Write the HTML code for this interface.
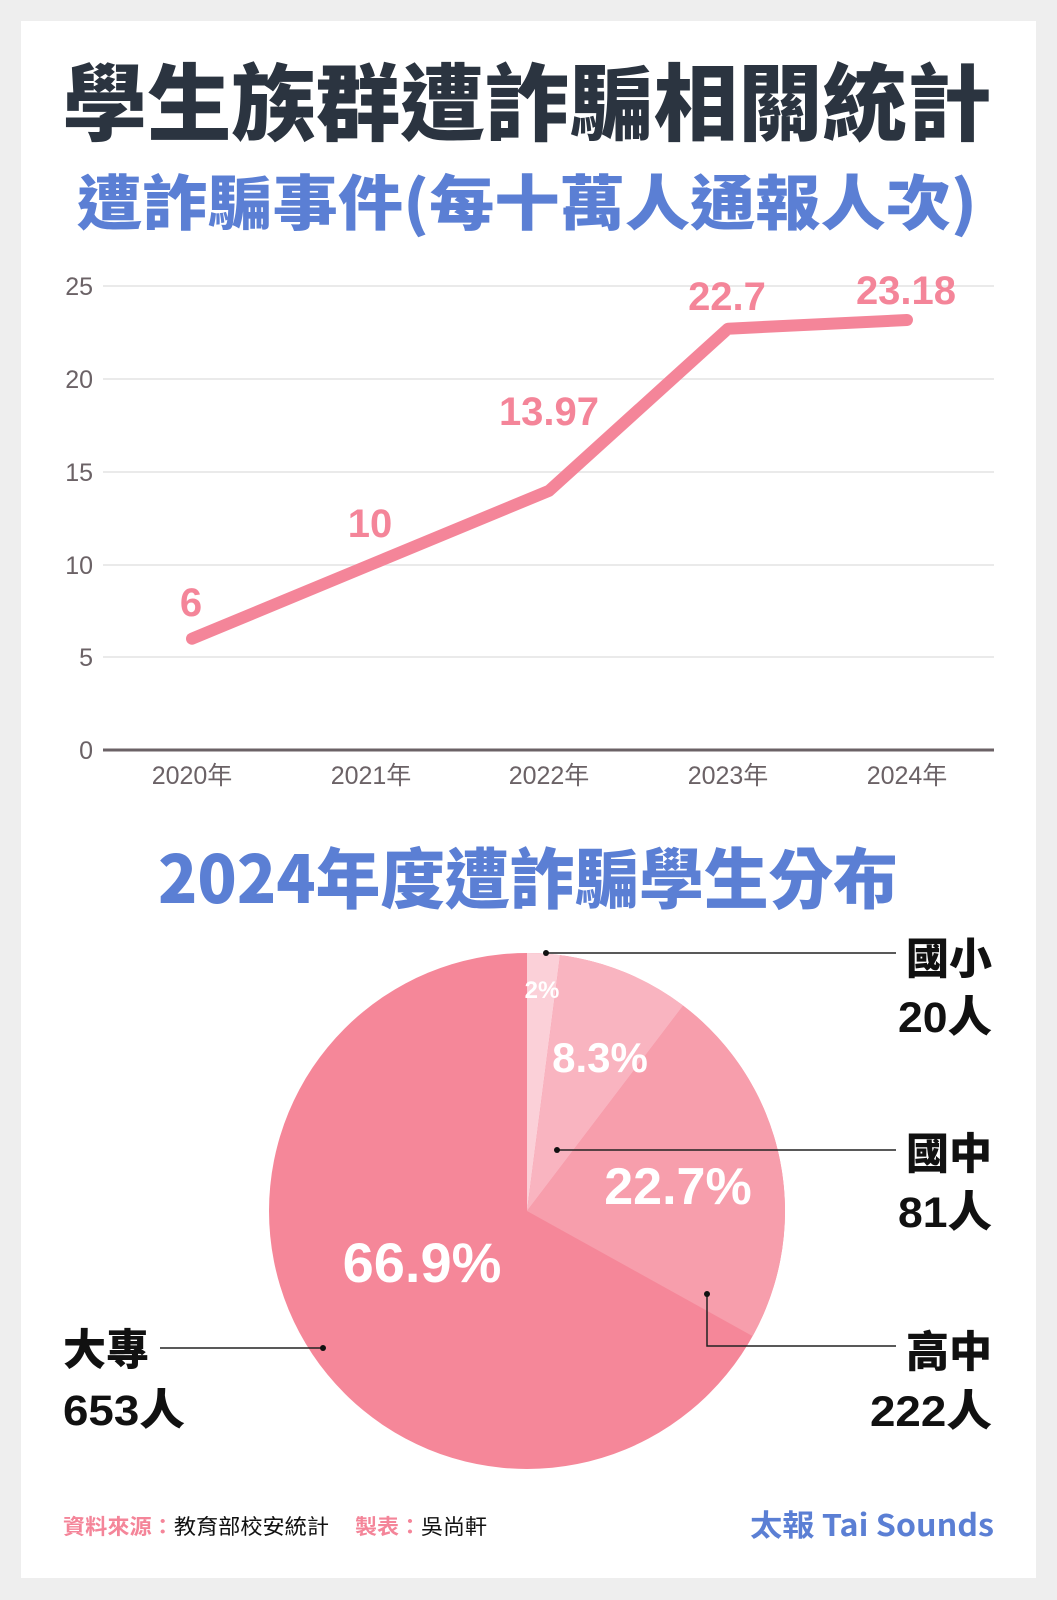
<!DOCTYPE html>
<html><head><meta charset="utf-8"><style>
html,body{margin:0;padding:0;background:#eeeeee;}
svg{display:block;}
text{font-family:"Liberation Sans","Noto Sans CJK TC",sans-serif;}
.cjk{font-family:"Noto Sans CJK TC","Noto Sans CJK SC",sans-serif;}
</style></head><body>
<svg width="1057" height="1600" viewBox="0 0 1057 1600" xmlns="http://www.w3.org/2000/svg">
<rect x="0" y="0" width="1057" height="1600" fill="#eeeeee"/>
<rect x="21" y="21" width="1015" height="1557" fill="#ffffff"/>

<text class="cjk" x="527" y="134" text-anchor="middle" font-size="84" font-weight="900" fill="#2b3440" textLength="929" lengthAdjust="spacingAndGlyphs">學生族群遭詐騙相關統計</text>
<text class="cjk" x="527" y="225" text-anchor="middle" font-size="60" font-weight="900" fill="#5b7fd4" textLength="900" lengthAdjust="spacingAndGlyphs">遭詐騙事件(每十萬人通報人次)</text>

<g stroke="#e4e4e4" stroke-width="1.5">
<line x1="103" y1="286" x2="994" y2="286"/>
<line x1="103" y1="379" x2="994" y2="379"/>
<line x1="103" y1="472" x2="994" y2="472"/>
<line x1="103" y1="565" x2="994" y2="565"/>
<line x1="103" y1="657" x2="994" y2="657"/>
</g>
<line x1="103" y1="750" x2="994" y2="750" stroke="#6b6266" stroke-width="3"/>
<g class="cjk" font-size="25" fill="#6b6266" text-anchor="end">
<text x="93" y="295">25</text><text x="93" y="388">20</text><text x="93" y="481">15</text>
<text x="93" y="574">10</text><text x="93" y="666">5</text><text x="93" y="759">0</text>
</g>
<g class="cjk" font-size="25" fill="#6b6266" text-anchor="middle">
<text x="192" y="784">2020年</text><text x="371" y="784">2021年</text><text x="549" y="784">2022年</text>
<text x="728" y="784">2023年</text><text x="907" y="784">2024年</text>
</g>
<polyline points="192,638.7 371,564.5 549,490.8 728,328.7 907,320" fill="none" stroke="#f48599" stroke-width="12" stroke-linecap="round" stroke-linejoin="round"/>
<g class="cjk" font-size="40" font-weight="700" fill="#f48599" text-anchor="middle">
<text x="191" y="616">6</text><text x="370" y="537">10</text><text x="549" y="425">13.97</text>
<text x="727" y="310">22.7</text><text x="906" y="304">23.18</text>
</g>

<text class="cjk" x="528" y="903" text-anchor="middle" font-size="66" font-weight="900" fill="#5b7fd4" textLength="740" lengthAdjust="spacingAndGlyphs">2024年度遭詐騙學生分布</text>

<circle cx="527" cy="1211" r="258" fill="#f58799"/>
<path d="M527,1211 L527,953 A258,258 0 0 1 560.1,955.1 Z" fill="#fbd0d8"/>
<path d="M527,1211 L560.1,955.1 A258,258 0 0 1 683.2,1005.6 Z" fill="#f9b4c0"/>
<path d="M527,1211 L683.2,1005.6 A258,258 0 0 1 752.6,1336.1 Z" fill="#f79eac"/>

<g class="cjk" font-weight="700" fill="#ffffff" text-anchor="middle">
<text x="542" y="998" font-size="24">2%</text>
<text x="600" y="1072" font-size="42">8.3%</text>
<text x="678" y="1204" font-size="52">22.7%</text>
<text x="422" y="1282" font-size="56">66.9%</text>
</g>

<g stroke="#222" stroke-width="1.5" fill="none">
<line x1="546" y1="953" x2="896" y2="953"/>
<line x1="557" y1="1150" x2="896" y2="1150"/>
<polyline points="707,1294 707,1346 896,1346"/>
<line x1="160" y1="1348" x2="323" y2="1348"/>
</g>
<g fill="#111">
<circle cx="546" cy="953" r="3"/><circle cx="557" cy="1150" r="3"/>
<circle cx="707" cy="1294" r="3"/><circle cx="323" cy="1348" r="3"/>
</g>
<g class="cjk" font-size="43" font-weight="900" fill="#111">
<text x="992" y="974" text-anchor="end">國小</text>
<text x="992" y="1032" text-anchor="end" textLength="94" lengthAdjust="spacingAndGlyphs">20人</text>
<text x="992" y="1169" text-anchor="end">國中</text>
<text x="992" y="1227" text-anchor="end" textLength="94" lengthAdjust="spacingAndGlyphs">81人</text>
<text x="992" y="1367" text-anchor="end">高中</text>
<text x="992" y="1426" text-anchor="end" textLength="122" lengthAdjust="spacingAndGlyphs">222人</text>
<text x="63" y="1365">大專</text>
<text x="63" y="1425" textLength="122" lengthAdjust="spacingAndGlyphs">653人</text>
</g>

<text class="cjk" x="63" y="1534" font-size="21" font-weight="700" fill="#f48599" textLength="266" lengthAdjust="spacingAndGlyphs">資料來源：<tspan fill="#111" font-weight="400">教育部校安統計</tspan></text>
<text class="cjk" x="355" y="1534" font-size="21" font-weight="700" fill="#f48599" textLength="132" lengthAdjust="spacingAndGlyphs">製表：<tspan fill="#111" font-weight="400">吳尚軒</tspan></text>
<text class="cjk" x="994" y="1536" text-anchor="end" font-size="30" font-weight="700" fill="#5b7fd4" textLength="244" lengthAdjust="spacingAndGlyphs">太報 Tai Sounds</text>
</svg>
</body></html>
